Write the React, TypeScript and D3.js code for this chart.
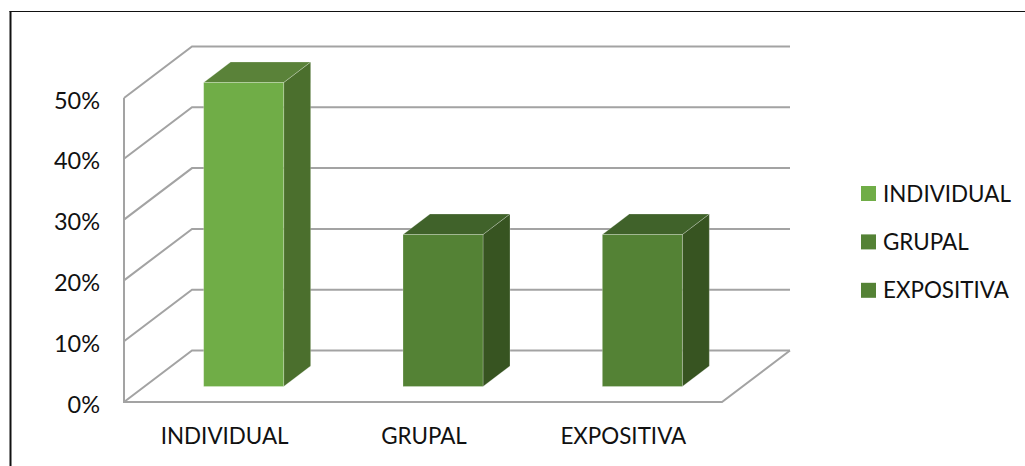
import React from "react";
import * as d3 from "d3";

const categories = ["INDIVIDUAL", "GRUPAL", "EXPOSITIVA"];
const values = [0.5, 0.25, 0.25];
const ticks = [0, 0.1, 0.2, 0.3, 0.4, 0.5];
const frontColors = ["#70AD47", "#548235", "#548235"];
const topColors = ["#5A8239", "#40622A", "#40622A"];
const sideColors = ["#4B6F2D", "#375421", "#375421"];

const W = 1025, H = 466;
const font = "Lato, Carlito, 'Open Sans', sans-serif";
const y = d3.scaleLinear().domain([0, 0.5]).range([402, 98]);
const x = d3.scaleBand<string>().domain(categories).range([124, 722]);
const backDx = 68, backDy = -51.5;
const barW = 80, barDx = 27, barDy = -20.5, barLift = 15.5;
const barCenterOffset = 20;
const grid = "#A3A3A3";
const pts = (p: number[][]) => p.map((d) => d.join(",")).join(" ");

export default function App() {
  const y0 = y(0);
  const xL = x.range()[0];
  const xR = x.range()[1];
  return (
    <svg width={W} height={H} viewBox={`0 0 ${W} ${H}`} style={{ position: "absolute", left: 0, top: 0, background: "#fff" }}>
      <line x1={10.5} y1={11} x2={10.5} y2={H} stroke="#111" strokeWidth={2} />
      <line x1={9.5} y1={11.5} x2={W} y2={11.5} stroke="#111" strokeWidth={1} />
      {ticks.map((t) => (
        <polyline key={t} points={pts([[xL, y(t)], [xL + backDx, y(t) + backDy], [xR + backDx, y(t) + backDy]])} fill="none" stroke={grid} strokeWidth={2} />
      ))}
      <line x1={xL} y1={y(0.5)} x2={xL} y2={y0} stroke={grid} strokeWidth={2} />
      <polyline points={pts([[xL - 1, y0], [xR, y0], [xR + backDx, y0 + backDy]])} fill="none" stroke={grid} strokeWidth={2} />
      {ticks.map((t) => (
        <text key={t} x={100} y={y(t) + 10.5} textAnchor="end" fontFamily={font} fontSize={23.5} fill="#111">
          {d3.format(".0%")(t)}
        </text>
      ))}
      {categories.map((c, i) => {
        const cx = x(c)! + x.bandwidth() / 2 + barCenterOffset;
        const l = cx - barW / 2, r = cx + barW / 2;
        const b = y0 - barLift;
        const t = y(values[i]) - barLift;
        return (
          <g key={c} stroke="#fff" strokeOpacity={0.3} strokeWidth={0.8}>
            <polygon points={pts([[r, b], [r + barDx, b + barDy], [r + barDx, t + barDy], [r, t]])} fill={sideColors[i]} />
            <polygon points={pts([[l, t], [l + barDx, t + barDy], [r + barDx, t + barDy], [r, t]])} fill={topColors[i]} />
            <rect x={l} y={t} width={barW} height={b - t} fill={frontColors[i]} />
          </g>
        );
      })}
      {categories.map((c) => (
        <text key={c} x={x(c)! + x.bandwidth() / 2 + 1} y={444} textAnchor="middle" fontFamily={font} fontSize={22.4} fill="#111">
          {c}
        </text>
      ))}
      {categories.map((c, i) => (
        <g key={c}>
          <rect x={861} y={186 + i * 48.4} width={15} height={15} fill={frontColors[i]} />
          <text x={883} y={201.5 + i * 48.4} fontFamily={font} fontSize={22.4} fill="#111">{c}</text>
        </g>
      ))}
    </svg>
  );
}
